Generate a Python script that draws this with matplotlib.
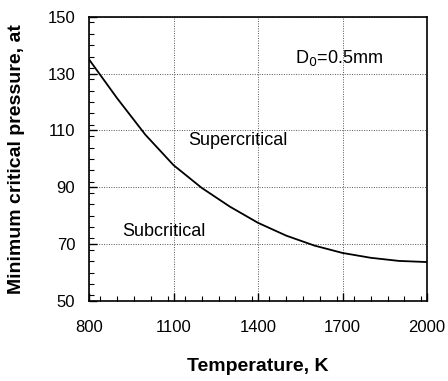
import matplotlib
matplotlib.use("Agg")
import matplotlib.pyplot as plt
from matplotlib.ticker import MultipleLocator

plt.rcParams['font.family'] = ['Liberation Sans', 'DejaVu Sans']

temperature = [800, 900, 1000, 1100, 1200, 1300, 1400, 1500, 1600, 1700, 1800, 1900, 2000]
pressure = [135.0, 121.3, 108.5, 97.8, 89.8, 83.2, 77.5, 73.0, 69.5, 66.9, 65.2, 64.1, 63.7]

x_ticks = [800, 1100, 1400, 1700, 2000]
y_ticks = [50, 70, 90, 110, 130, 150]

fig = plt.figure(figsize=(4.48, 3.81), dpi=100)
ax = fig.add_axes([0.1987, 0.21, 0.7545, 0.746])

ax.plot(temperature, pressure, color='black', linewidth=1.3)

ax.set_xlim(800, 2000)
ax.set_ylim(50, 150)
ax.set_xticks(x_ticks)
ax.set_yticks(y_ticks)
ax.xaxis.set_minor_locator(MultipleLocator(60))
ax.yaxis.set_minor_locator(MultipleLocator(4))

ax.grid(True, which='major', linestyle=(0, (1, 1.5)), color='#555555', linewidth=0.7)

ax.tick_params(which='both', direction='in', top=False, right=False, labelsize=12)
ax.tick_params(which='major', length=6, width=1.0)
ax.tick_params(which='minor', length=3.5, width=0.8)
ax.tick_params(axis='y', pad=10)
ax.tick_params(axis='x', pad=14)

for s in ax.spines.values():
    s.set_linewidth(1.2)

ax.set_xlabel('Temperature, K', fontsize=14, fontweight='bold')
ax.set_ylabel('Minimum critical pressure, at', fontsize=14, fontweight='bold')
ax.xaxis.set_label_coords(0.5, -0.2)
ax.yaxis.set_label_coords(-0.19, 0.5)

ax.text(1152, 105, 'Supercritical', fontsize=13, ha='left', va='baseline')
ax.text(919, 73, 'Subcritical', fontsize=13, ha='left', va='baseline')
ax.text(1531, 133.9, r'D$_0$=0.5mm', fontsize=13, ha='left', va='baseline')

fig.savefig('out.png', dpi=100)
